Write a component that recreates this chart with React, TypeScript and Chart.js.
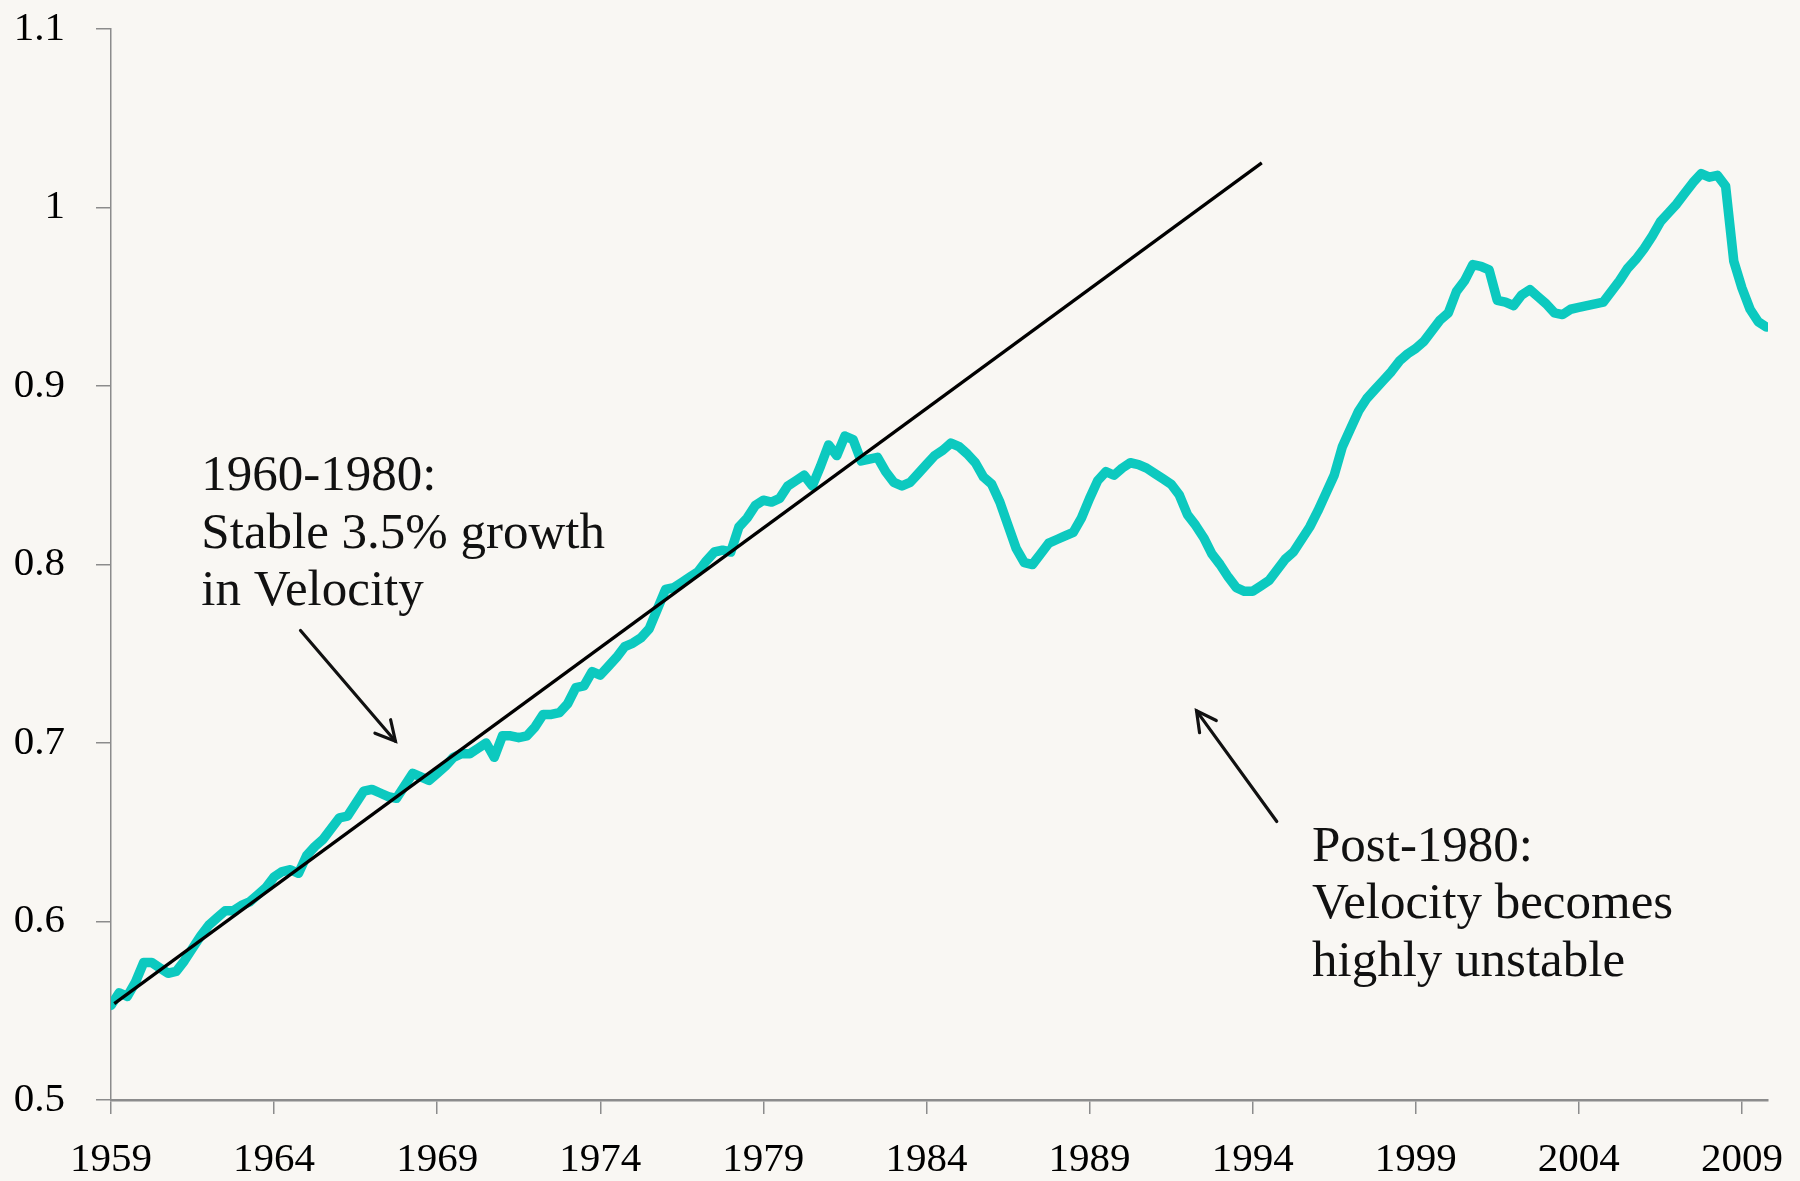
import React, { useEffect, useRef } from "react";
import { Chart, registerables } from "chart.js";

Chart.register(...registerables);

// Quarterly series, 1959Q1 .. 2009Q4
const startYear = 1959;
const quartersPerYear = 4;
const velocity = [
  0.553, 0.560, 0.558, 0.566, 0.577, 0.577, 0.574, 0.571, 0.572, 0.578,
  0.585, 0.592, 0.598, 0.602, 0.606, 0.606, 0.609, 0.611, 0.615, 0.619,
  0.625, 0.628, 0.629, 0.627, 0.637, 0.642, 0.646, 0.652, 0.658, 0.659,
  0.666, 0.673, 0.674, 0.672, 0.670, 0.669, 0.676, 0.683, 0.681, 0.679,
  0.683, 0.687, 0.692, 0.694, 0.694, 0.697, 0.700, 0.692, 0.704, 0.704,
  0.703, 0.704, 0.709, 0.716, 0.716, 0.717, 0.722, 0.731, 0.732, 0.740,
  0.738, 0.743, 0.748, 0.754, 0.756, 0.759, 0.764, 0.775, 0.786, 0.787,
  0.790, 0.793, 0.796, 0.802, 0.807, 0.808, 0.807, 0.821, 0.826, 0.833,
  0.836, 0.835, 0.837, 0.844, 0.847, 0.850, 0.844, 0.855, 0.867, 0.861,
  0.872, 0.870, 0.858, 0.859, 0.860, 0.852, 0.846, 0.844, 0.846, 0.851,
  0.856, 0.861, 0.864, 0.868, 0.866, 0.862, 0.857, 0.849, 0.845, 0.835,
  0.822, 0.809, 0.801, 0.800, 0.806, 0.812, 0.814, 0.816, 0.818, 0.826,
  0.837, 0.847, 0.852, 0.850, 0.854, 0.857, 0.856, 0.854, 0.851, 0.848,
  0.845, 0.839, 0.828, 0.822, 0.815, 0.806, 0.800, 0.793, 0.787, 0.785,
  0.785, 0.788, 0.791, 0.797, 0.803, 0.807, 0.814, 0.821, 0.830, 0.840,
  0.850, 0.866, 0.876, 0.886, 0.893, 0.898, 0.903, 0.908, 0.914, 0.918,
  0.921, 0.925, 0.931, 0.937, 0.941, 0.953, 0.959, 0.968, 0.967, 0.965,
  0.948, 0.947, 0.945, 0.951, 0.954, 0.950, 0.946, 0.941, 0.940, 0.943,
  0.944, 0.945, 0.946, 0.947, 0.953, 0.959, 0.966, 0.971, 0.977, 0.984,
  0.992, 0.997, 1.002, 1.008, 1.014, 1.019, 1.017, 1.018, 1.012, 0.970,
  0.955, 0.943, 0.936, 0.933,
];

const tickYears = [1959, 1964, 1969, 1974, 1979, 1984, 1989, 1994, 1999, 2004, 2009];
const xMin = 1959;
const xMax = 2009.8;
const yMin = 0.5;
const yMax = 1.1;
const yStep = 0.1;

// 1960-1980 trend line (3.5% growth)
const trendYears = [1959.1, 1994.28];
const trendValues = [0.554, 1.025];

// Annotations
const leftNoteLines = ["1960-1980:", "Stable 3.5% growth", "in Velocity"];
const leftNoteAt = [1961.77, 0.8416];
const leftArrowFrom = [1964.81, 0.763];
const leftArrowTo = [1967.72, 0.701];

const rightNoteLines = ["Post-1980:", "Velocity becomes", "highly unstable"];
const rightNoteAt = [1995.82, 0.634];
const rightArrowFrom = [1994.74, 0.656];
const rightArrowTo = [1992.28, 0.718];

const SERIF = '"Liberation Serif", "Times New Roman", serif';

const notesPlugin = {
  id: "notes",
  afterDatasetsDraw(chart: any) {
    const { ctx, scales } = chart;
    const x = scales.x;
    const y = scales.y;
    ctx.save();
    ctx.fillStyle = "#111";
    ctx.strokeStyle = "#111";
    ctx.font = `51px ${SERIF}`;
    ctx.textAlign = "left";
    ctx.textBaseline = "alphabetic";
    const lineGap = 57.5;
    const drawNote = (lines: string[], at: number[]) => {
      const px = x.getPixelForValue(at[0]);
      const py = y.getPixelForValue(at[1]);
      lines.forEach((t, i) => ctx.fillText(t, px, py + i * lineGap));
    };
    drawNote(leftNoteLines, leftNoteAt);
    drawNote(rightNoteLines, rightNoteAt);

    const drawArrow = (from: number[], to: number[]) => {
      const x1 = x.getPixelForValue(from[0]);
      const y1 = y.getPixelForValue(from[1]);
      const x2 = x.getPixelForValue(to[0]);
      const y2 = y.getPixelForValue(to[1]);
      const ang = Math.atan2(y1 - y2, x1 - x2);
      const wing = 22;
      const spread = (28 * Math.PI) / 180;
      ctx.lineWidth = 3.2;
      ctx.lineCap = "round";
      ctx.lineJoin = "miter";
      ctx.beginPath();
      ctx.moveTo(x1, y1);
      ctx.lineTo(x2, y2);
      ctx.stroke();
      ctx.beginPath();
      ctx.moveTo(x2 + wing * Math.cos(ang + spread), y2 + wing * Math.sin(ang + spread));
      ctx.lineTo(x2, y2);
      ctx.lineTo(x2 + wing * Math.cos(ang - spread), y2 + wing * Math.sin(ang - spread));
      ctx.stroke();
    };
    drawArrow(leftArrowFrom, leftArrowTo);
    drawArrow(rightArrowFrom, rightArrowTo);
    ctx.restore();
  },
};

export default function App() {
  const ref = useRef<HTMLCanvasElement | null>(null);

  useEffect(() => {
    if (!ref.current) return;
    const velocityPoints = velocity.map((v, i) => ({ x: startYear + i / quartersPerYear, y: v }));
    const trendPoints = trendYears.map((t, i) => ({ x: t, y: trendValues[i] }));

    const chart = new Chart(ref.current, {
      type: "line",
      data: {
        datasets: [
          {
            label: "Trend",
            data: trendPoints,
            borderColor: "#000000",
            borderWidth: 3.2,
            pointRadius: 0,
            tension: 0,
            fill: false,
          },
          {
            label: "Velocity",
            data: velocityPoints,
            borderColor: "#0cc9bf",
            borderWidth: 9.5,
            pointRadius: 0,
            tension: 0,
            fill: false,
            borderJoinStyle: "round",
            borderCapStyle: "round",
          },
        ],
      },
      options: {
        animation: false,
        responsive: false,
        maintainAspectRatio: false,
        layout: { padding: { top: 29, right: 32, left: 0, bottom: 0 } },
        plugins: {
          legend: { display: false },
          title: { display: false },
          tooltip: { enabled: false },
        },
        scales: {
          x: {
            type: "linear",
            min: xMin,
            max: xMax,
            afterBuildTicks: (axis: any) => {
              axis.ticks = tickYears.map((v) => ({ value: v }));
            },
            afterFit: (axis: any) => {
              axis.height = 81;
              axis.paddingLeft = 0;
              axis.paddingRight = 0;
            },
            grid: {
              drawOnChartArea: false,
              drawTicks: true,
              tickLength: 14,
              color: "#8c8c8c",
              lineWidth: 1.5,
            },
            border: { display: true, color: "#8c8c8c", width: 2.5 },
            ticks: {
              autoSkip: false,
              maxRotation: 0,
              minRotation: 0,
              padding: 22,
              color: "#000",
              font: { family: SERIF, size: 41 },
              callback: (v: any) => String(v),
            },
          },
          y: {
            type: "linear",
            min: yMin,
            max: yMax,
            afterFit: (axis: any) => {
              axis.width = 111;
              axis.paddingTop = 0;
              axis.paddingBottom = 0;
            },
            grid: {
              drawOnChartArea: false,
              drawTicks: true,
              tickLength: 15,
              color: "#8c8c8c",
              lineWidth: 1.5,
            },
            border: { display: true, color: "#8c8c8c", width: 1.5 },
            ticks: {
              stepSize: yStep,
              padding: 31,
              color: "#000",
              font: { family: SERIF, size: 41 },
              callback: (v: any) => String(Number(Number(v).toFixed(1))),
            },
          },
        },
      },
      plugins: [notesPlugin],
    } as any);

    return () => chart.destroy();
  }, []);

  return (
    <div
      style={{
        position: "fixed",
        left: 0,
        top: 0,
        width: 1800,
        height: 1181,
        background: "#f9f7f3",
        overflow: "hidden",
      }}
    >
      <canvas ref={ref} width={1800} height={1181} style={{ display: "block" }} />
    </div>
  );
}
